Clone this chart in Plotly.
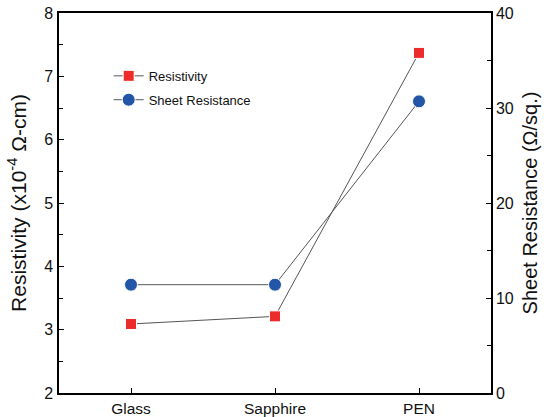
import plotly.graph_objects as go

categories = ["Glass", "Sapphire", "PEN"]
resistivity = [3.09, 3.21, 7.37]
sheet_resistance = [11.4, 11.4, 30.7]

font = "Liberation Sans, Arial, sans-serif"

fig = go.Figure()
fig.add_trace(go.Scatter(
    x=categories, y=resistivity, name="Resistivity", mode="lines+markers",
    legendgroup="a",
    line=dict(color="#555555", width=1),
    marker=dict(symbol="square", size=11, color="#ee2b2b", line=dict(color="white", width=1)),
    yaxis="y"))
fig.add_trace(go.Scatter(
    x=categories, y=sheet_resistance, name="Sheet Resistance", mode="lines+markers",
    legendgroup="b",
    line=dict(color="#555555", width=1),
    marker=dict(symbol="circle", size=13, color="#2356a6", line=dict(color="white", width=1)),
    yaxis="y2"))

fig.update_layout(
    width=559, height=417,
    margin=dict(l=59, r=68, t=13, b=24, autoexpand=False),
    paper_bgcolor="white", plot_bgcolor="white",
    font=dict(family=font, color="#111111"),
    showlegend=True,
    legend=dict(x=0.115, y=0.874, xanchor="left", yanchor="top", bgcolor="rgba(0,0,0,0)",
                font=dict(size=13), itemwidth=30, traceorder="grouped", tracegroupgap=4),
    xaxis=dict(range=[-0.5, 2.5], showline=True, linecolor="black", linewidth=1.5, mirror=True,
               ticks="inside", ticklen=5, tickcolor="black", showgrid=False, zeroline=False,
               tickfont=dict(size=15.5), automargin=False, ticklabelstandoff=1),
    yaxis=dict(range=[2, 8], dtick=1, showline=True, linecolor="black", linewidth=1.5,
               ticks="inside", ticklen=5, tickcolor="black", showgrid=False, zeroline=False,
               minor=dict(dtick=0.5, ticks="inside", ticklen=4, tickcolor="black"),
               tickfont=dict(size=16), automargin=False, ticklabelstandoff=1,
               ticklabeloverflow="allow",
               title=dict(text="Resistivity (x10<sup>-4</sup> Ω-cm)", font=dict(size=21), standoff=12)),
    yaxis2=dict(range=[0, 40], dtick=10, overlaying="y", side="right", showline=True,
                linecolor="black", linewidth=1.5, ticks="inside", ticklen=5, tickcolor="black",
                showgrid=False, zeroline=False, automargin=False, ticklabelstandoff=0,
                ticklabeloverflow="allow",
                minor=dict(dtick=5, ticks="inside", ticklen=4, tickcolor="black"),
                tickfont=dict(size=16),
                title=dict(text="Sheet Resistance (Ω/sq.)", font=dict(size=20), standoff=10)),
)

# remove the page's default 8px body margin so the figure fills the window exactly
fig.write_html("out.html", config={"displayModeBar": False},
               post_script="document.body.style.margin='0';")
